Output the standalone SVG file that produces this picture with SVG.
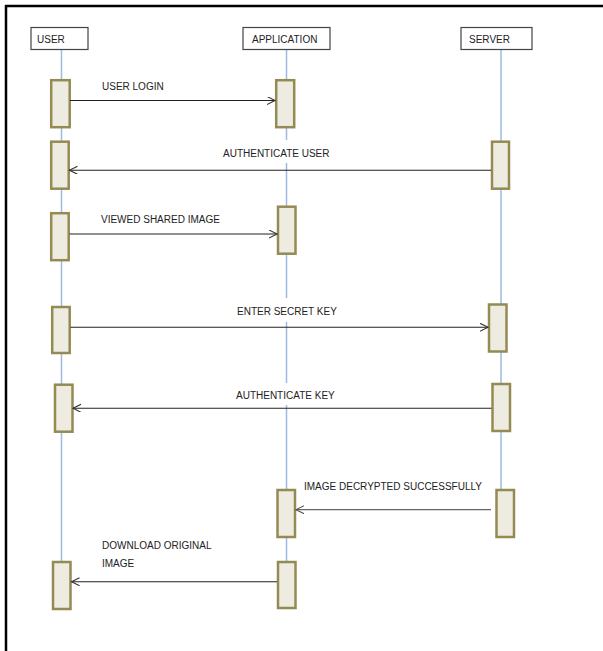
<svg xmlns="http://www.w3.org/2000/svg" width="603" height="651" viewBox="0 0 603 651">
<style>
.t{font-family:"Liberation Sans",Arial,sans-serif;font-size:10px;fill:#222}
.hdr{fill:#fff;stroke:#444;stroke-width:1.2}
.life{stroke:#9dbbe0;stroke-width:1.5;fill:none}
.act{fill:#eeece1;stroke:#948a54;stroke-width:2.5}
.msg{stroke:#222;stroke-width:1.1;fill:none}
</style>
<defs>
<marker id="ah" markerWidth="10" markerHeight="10" refX="8" refY="4" orient="auto" markerUnits="userSpaceOnUse">
<path d="M0,0 L8,4 L0,8" fill="none" stroke="#333" stroke-width="1.1"/>
</marker>
<marker id="ahg" markerWidth="10" markerHeight="10" refX="8" refY="4" orient="auto" markerUnits="userSpaceOnUse">
<path d="M0,0 L8,4 L0,8" fill="none" stroke="#555" stroke-width="1.1"/>
</marker>
</defs>
<rect width="603" height="651" fill="#fff"/>
<g id="frame" stroke="#000" stroke-width="2.5">
<line x1="5" y1="6" x2="603" y2="6"/>
<line x1="6" y1="5" x2="6" y2="651"/>
</g>
<g id="lifelines">
<line class="life" x1="61.5" y1="49" x2="61.5" y2="608"/>
<path class="life" d="M286.5,49 V140 M286.5,163 V298 M286.5,322 V383 M286.5,405 V608"/>
<line class="life" x1="501" y1="49" x2="501" y2="489"/>
</g>
<g id="user">
<rect class="hdr" x="31" y="27.5" width="57" height="22"/>
<text class="t" x="37" y="42.5">USER</text>
<rect class="act" x="51.2" y="80.2" width="18.5" height="47"/>
<rect class="act" x="51.2" y="141.7" width="17.5" height="47"/>
<rect class="act" x="51.2" y="213.2" width="17.5" height="47"/>
<rect class="act" x="52.2" y="307" width="17.5" height="46"/>
<rect class="act" x="55" y="384.7" width="17.5" height="47"/>
<rect class="act" x="53" y="562" width="17.5" height="47"/>
</g>
<g id="application">
<rect class="hdr" x="243" y="27.5" width="87" height="22"/>
<text class="t" x="252" y="42.5">APPLICATION</text>
<rect class="act" x="276.2" y="80.2" width="18" height="47"/>
<rect class="act" x="278" y="206.7" width="17.5" height="47"/>
<rect class="act" x="277.5" y="490" width="17.5" height="47"/>
<rect class="act" x="278" y="562" width="17.5" height="46"/>
</g>
<g id="server">
<rect class="hdr" x="461" y="27.5" width="71" height="22"/>
<text class="t" x="469" y="42.5">SERVER</text>
<rect class="act" x="492" y="141.7" width="17" height="47"/>
<rect class="act" x="489" y="304.5" width="17.5" height="47"/>
<rect class="act" x="492.5" y="384" width="17.5" height="47"/>
<rect class="act" x="496.5" y="490" width="17.5" height="47"/>
</g>
<g id="connectors">
<line class="msg" x1="70" y1="100.5" x2="275" y2="100.5" marker-end="url(#ah)"/>
<line class="msg" x1="491" y1="170.3" x2="69.5" y2="170.3" marker-end="url(#ah)"/>
<line class="msg" x1="69.5" y1="234" x2="277" y2="234" marker-end="url(#ah)"/>
<line class="msg" x1="70.5" y1="327.3" x2="488" y2="327.3" marker-end="url(#ah)"/>
<line class="msg" x1="491.5" y1="408.3" x2="73" y2="408.3" marker-end="url(#ah)"/>
<line x1="491" y1="509.7" x2="296" y2="509.7" stroke="#666" stroke-width="1.3" marker-end="url(#ahg)"/>
<line class="msg" x1="277" y1="581.7" x2="71.5" y2="581.7" marker-end="url(#ah)"/>
</g>
<g id="labels">
<text class="t" x="102" y="90">USER LOGIN</text>
<text class="t" x="223" y="157">AUTHENTICATE USER</text>
<text class="t" x="101" y="222.5">VIEWED SHARED IMAGE</text>
<text class="t" x="237" y="315">ENTER SECRET KEY</text>
<text class="t" x="236" y="399">AUTHENTICATE KEY</text>
<text class="t" x="304" y="490">IMAGE DECRYPTED SUCCESSFULLY</text>
<text class="t" x="102" y="549">DOWNLOAD ORIGINAL</text>
<text class="t" x="102" y="566.5">IMAGE</text>
</g>
</svg>
